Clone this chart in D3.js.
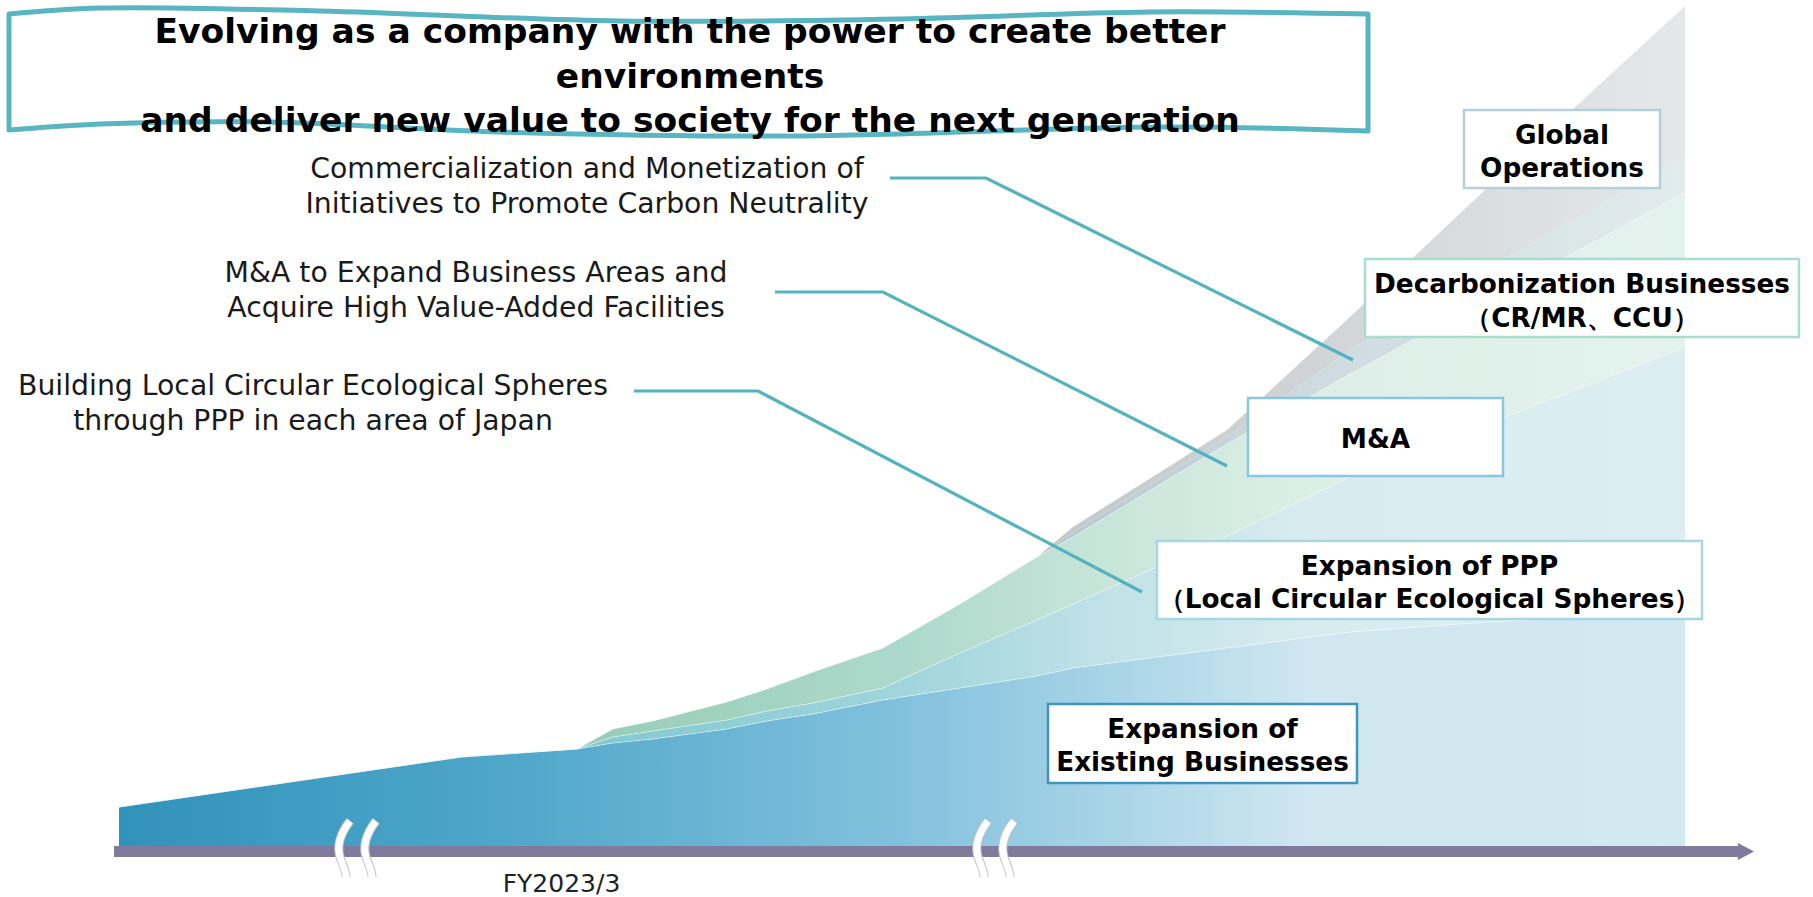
<!DOCTYPE html>
<html>
<head>
<meta charset="utf-8">
<script src="https://cdn.jsdelivr.net/npm/d3@7"></script>
<style>
  html, body { margin: 0; padding: 0; background: #fff; }
  svg { display: block; font-family: "DejaVu Sans", Verdana, sans-serif; }
</style>
</head>
<body>
<script>
const width = 1813;
const height = 897;

// position of each vertex along the timeline (same units as the x scale domain)
const periods   = [0, 342, 458, 494, 534, 608, 648, 694, 764, 841, 918, 954, 1108, 1231, 1368, 1566];
// thickness of each growth layer at those vertices
const existing  = [39, 89, 97, 103, 107, 117, 125, 132, 146, 158, 170, 178, 198, 214, 224, 233];
const ppp       = [0, 0, 0, 6, 8, 9, 10, 11, 12, 35, 56, 64, 112, 155, 198, 266];
const mAndA     = [0, 0, 0, 8, 10, 18, 22, 31, 40, 49, 63, 67, 92, 103, 124, 154];
const decarb    = [0, 0, 0, 0, 0, 0, 0, 0, 0, 0, 0, 5, 7, 24, 31, 36];
const globalOps = [0, 0, 0, 0, 0, 0, 0, 0, 0, 0, 0, 5, 7, 33, 81, 151];

const layerKeys = ["existing", "ppp", "mAndA", "decarb", "globalOps"];

const tickValues = [442];
const tickLabels = ["FY2023/3"];
const breakMarks = [236, 874];

const titleLines = [
  "Evolving as a company with the power to create better",
  "environments",
  "and deliver new value to society for the next generation"
];

const notes = [
  ["Commercialization and Monetization of", "Initiatives to Promote Carbon Neutrality"],
  ["M&A to Expand Business Areas and", "Acquire High Value-Added Facilities"],
  ["Building Local Circular Ecological Spheres", "through PPP in each area of Japan"]
];

const boxLabels = [
  ["Global", "Operations"],
  ["Decarbonization Businesses", "（CR/MR、CCU）"],
  ["M&A"],
  ["Expansion of PPP", "（Local Circular Ecological Spheres）"],
  ["Expansion of", "Existing Businesses"]
];

const rows = periods.map((t, i) => ({
  t,
  existing: existing[i],
  ppp: ppp[i],
  mAndA: mAndA[i],
  decarb: decarb[i],
  globalOps: globalOps[i]
}));

const x = d3.scaleLinear().domain([0, 1566]).range([119, 1685]);
const y = d3.scaleLinear().domain([0, 840]).range([846, 6]);

const svg = d3.select("body").append("svg")
    .attr("width", width)
    .attr("height", height);

// ---- gradients (colour fades to pale on the right)
const gradStops = {
  existing:  [[0, "#3192bb"], [0.24, "#4ea6c9"], [0.5, "#82c1dd"], [0.66, "#b0d8e9"], [0.76, "#d0e7f0"], [1, "#d3e9f1"]],
  ppp:       [[0, "#7cc6cd"], [0.31, "#84c9d1"], [0.5, "#a0d5dc"], [0.63, "#c0e2e7"], [0.76, "#d8ecef"], [1, "#dceef2"]],
  mAndA:     [[0, "#95cbb6"], [0.31, "#99cdb9"], [0.5, "#acd9cb"], [0.63, "#c8e5da"], [0.76, "#dcefe7"], [1, "#e3f2ed"]],
  decarb:    [[0, "#b4c6cf"], [0.6, "#b8c9d1"], [0.76, "#cddae0"], [1, "#e2ecee"]],
  globalOps: [[0, "#c3c8cb"], [0.6, "#c3c8cb"], [0.76, "#d0d4d6"], [1, "#e5e8e8"]]
};

const defs = svg.append("defs");
layerKeys.forEach(k => {
  const g = defs.append("linearGradient")
      .attr("id", "grad-" + k)
      .attr("gradientUnits", "userSpaceOnUse")
      .attr("x1", x(0)).attr("x2", x(1566))
      .attr("y1", 0).attr("y2", 0);
  g.selectAll("stop")
    .data(gradStops[k])
    .join("stop")
      .attr("offset", d => d[0])
      .attr("stop-color", d => d[1]);
});

// ---- stacked areas
const stacked = d3.stack().keys(layerKeys)(rows);

const area = d3.area()
    .x(d => x(d.data.t))
    .y0(d => y(d[0]))
    .y1(d => y(d[1]));

svg.append("g")
  .selectAll("path")
  .data(stacked)
  .join("path")
    .attr("fill", d => `url(#grad-${d.key})`)
    .attr("d", area);

const topLine = d3.line()
    .x(d => x(d.data.t))
    .y(d => y(d[1]));

svg.append("g")
  .selectAll("path")
  .data(stacked.slice(0, 3))
  .join("path")
    .attr("fill", "none")
    .attr("stroke", "#fff")
    .attr("stroke-opacity", 0.45)
    .attr("stroke-width", 1)
    .attr("d", topLine);

// ---- time axis (arrow bar)
svg.append("rect")
    .attr("x", 114).attr("y", y(0))
    .attr("width", 1628).attr("height", 11)
    .attr("fill", "#807b9c");
svg.append("path")
    .attr("d", `M1738,${y(0) - 3}L1754,${y(0) + 5.5}L1738,${y(0) + 14}Z`)
    .attr("fill", "#807b9c");

const axis = d3.axisBottom(x)
    .tickValues(tickValues)
    .tickFormat((d, i) => tickLabels[i])
    .tickSize(0)
    .tickPadding(0);

const axisG = svg.append("g")
    .attr("transform", `translate(0,${y(0) + 28})`)
    .call(axis);
axisG.select(".domain").remove();
axisG.selectAll("text")
    .attr("font-family", "DejaVu Sans, sans-serif")
    .attr("font-size", 25)
    .attr("fill", "#222")
    .attr("dy", "0.71em");

// ---- break marks (≈ on the time axis)
const breakG = svg.append("g")
  .selectAll("g")
  .data(breakMarks)
  .join("g")
    .attr("transform", d => `translate(${x(d)},0)`);

[-10, 16].forEach(off => {
  const p = `M${off + 5},821 C${off - 5},834 ${off - 8},847 ${off - 5},857 C${off - 2},866 ${off + 1},871 ${off + 1},877`;
  breakG.append("path")
      .attr("d", p)
      .attr("fill", "none")
      .attr("stroke", "#c4c4c4")
      .attr("stroke-width", 9)
      .attr("stroke-linecap", "butt");
  breakG.append("path")
      .attr("d", p)
      .attr("fill", "none")
      .attr("stroke", "#fff")
      .attr("stroke-width", 7)
      .attr("stroke-linecap", "butt");
});

// ---- leader lines
const leaders = [
  [[890, 178], [986, 178], [1353, 360]],
  [[775, 292], [883, 292], [1227, 466]],
  [[634, 391], [758, 391], [1142, 592]]
];
svg.append("g")
  .selectAll("path")
  .data(leaders)
  .join("path")
    .attr("fill", "none")
    .attr("stroke", "#53b3bf")
    .attr("stroke-width", 3.2)
    .attr("d", d3.line());

// ---- notes on the left
const noteLayout = [
  { cx: 587, y0: 178 },
  { cx: 476, y0: 282 },
  { cx: 313, y0: 395 }
];
svg.append("g")
  .selectAll("text")
  .data(notes)
  .join("text")
    .attr("text-anchor", "middle")
    .attr("font-size", 28.3)
    .attr("fill", "#1a1a1a")
    .each(function(d, i) {
      d3.select(this).selectAll("tspan")
        .data(d)
        .join("tspan")
          .attr("x", noteLayout[i].cx)
          .attr("y", (s, j) => noteLayout[i].y0 + j * 35)
          .text(s => s);
    });

// ---- label boxes
const boxLayout = [
  { x: 1464, y: 110, w: 196, h: 78, stroke: "#b5d0d8", base: [144, 177] },
  { x: 1365, y: 259, w: 434, h: 78, stroke: "#a8dccb", base: [293, 327] },
  { x: 1248, y: 398, w: 255, h: 78, stroke: "#89c6e0", base: [448] },
  { x: 1157, y: 541, w: 545, h: 78, stroke: "#a7d7e7", base: [575, 608] },
  { x: 1048, y: 704, w: 309, h: 79, stroke: "#3d95bc", base: [738, 771] }
];

const boxes = svg.append("g")
  .selectAll("g")
  .data(boxLabels)
  .join("g");

boxes.append("rect")
    .attr("x", (d, i) => boxLayout[i].x)
    .attr("y", (d, i) => boxLayout[i].y)
    .attr("width", (d, i) => boxLayout[i].w)
    .attr("height", (d, i) => boxLayout[i].h)
    .attr("fill", "#fff")
    .attr("stroke", (d, i) => boxLayout[i].stroke)
    .attr("stroke-width", 2.5);

boxes.append("text")
    .attr("text-anchor", "middle")
    .attr("font-weight", "bold")
    .attr("font-size", 26.3)
    .attr("fill", "#000")
    .each(function(d, i) {
      const b = boxLayout[i];
      d3.select(this).selectAll("tspan")
        .data(d)
        .join("tspan")
          .attr("x", b.x + b.w / 2)
          .attr("y", (s, j) => b.base[j])
          .text(s => s);
    });

// ---- wavy title banner
const bannerTop = [[9, 14], [100, 8], [320, 11], [620, 21], [900, 19], [1150, 12], [1368, 14]];
const bannerBottom = [[1368, 131], [1160, 127], [800, 136], [500, 132], [268, 122], [100, 124], [9, 130]];
const wave = d3.line().curve(d3.curveCatmullRom);
const bannerPath = wave(bannerTop) + wave(bannerBottom).replace(/^M/, "L") + "Z";

svg.append("path")
    .attr("d", bannerPath)
    .attr("fill", "#fff")
    .attr("stroke", "#58b5c1")
    .attr("stroke-width", 5)
    .attr("stroke-linejoin", "round");

svg.append("text")
    .attr("text-anchor", "middle")
    .attr("font-weight", "bold")
    .attr("font-size", 34.5)
    .attr("fill", "#000")
  .selectAll("tspan")
  .data(titleLines)
  .join("tspan")
    .attr("x", 690)
    .attr("y", (d, i) => 43 + i * 44.5)
    .text(d => d);
</script>
</body>
</html>
